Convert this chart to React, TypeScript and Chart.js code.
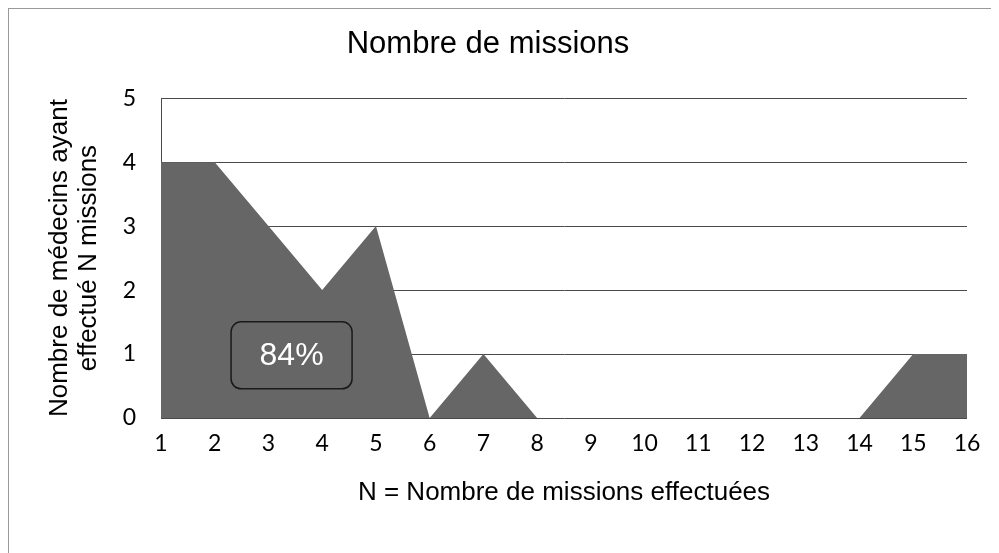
import React, { useEffect, useRef } from "react";
import { Chart, registerables } from "chart.js";

Chart.register(...registerables);

const categories = ["1", "2", "3", "4", "5", "6", "7", "8", "9", "10", "11", "12", "13", "14", "15", "16"];
const medecins = [4, 4, 3, 2, 3, 0, 1, 0, 0, 0, 0, 0, 0, 0, 1, 1];
const yTicks = [0, 1, 2, 3, 4, 5];
const annotationText = "84%";
const annotationX = 3.43; // position on the N axis
const annotationY = 0.98; // position on the value axis

const annotationPlugin = {
  id: "boxLabel",
  afterDatasetsDraw(chart: any) {
    const { ctx, scales } = chart;
    const x = scales.x;
    const y = scales.y;
    const idx = annotationX - Number(categories[0]);
    const cx = x.getPixelForValue(idx);
    const cy = y.getPixelForValue(annotationY);
    const w = 121;
    const h = 67;
    ctx.save();
    ctx.beginPath();
    (ctx as any).roundRect(cx - w / 2, cy - h / 2, w, h, 10);
    ctx.strokeStyle = "#1a1a1a";
    ctx.lineWidth = 1.5;
    ctx.stroke();
    ctx.fillStyle = "#ffffff";
    ctx.font = "32px 'Liberation Sans', Arial, sans-serif";
    ctx.textAlign = "center";
    ctx.textBaseline = "middle";
    ctx.fillText(annotationText, cx, cy + 1);
    ctx.restore();
  },
};

export default function App() {
  const ref = useRef<HTMLCanvasElement>(null);
  useEffect(() => {
    if (!ref.current) return;
    const chart = new Chart(ref.current, {
      type: "line",
      data: {
        labels: categories,
        datasets: [
          {
            data: medecins,
            fill: "origin",
            backgroundColor: "#666666",
            borderWidth: 0,
            borderColor: "#666666",
            pointRadius: 0,
            tension: 0,
          },
        ],
      },
      options: {
        animation: false,
        responsive: false,
        layout: { padding: { left: 0, right: 32, top: 0, bottom: 0 } },
        plugins: {
          legend: { display: false },
          tooltip: { enabled: false },
          title: {
            display: true,
            text: "Nombre de missions",
            color: "#000",
            font: { family: "'Liberation Sans', Arial, sans-serif", size: 31, weight: "normal" },
            padding: { top: 17, bottom: 35 },
          },
        },
        scales: {
          x: {
            type: "category",
            offset: false,
            grid: { display: false, drawTicks: false },
            border: { display: false },
            ticks: {
              autoSkip: false,
              maxRotation: 0,
              padding: 12,
              color: "#000",
              font: { family: "Lato, 'Open Sans', sans-serif", size: 23 },
            },
            title: {
              display: true,
              text: "N = Nombre de missions effectuées",
              color: "#000",
              font: { family: "'Liberation Sans', Arial, sans-serif", size: 26 },
              padding: { top: 0, bottom: 45 },
            },
            afterFit(scale: any) {
              scale.height = 135;
            },
          },
          y: {
            min: 0,
            max: 5,
            afterBuildTicks(scale: any) {
              scale.ticks = yTicks.map((v) => ({ value: v }));
            },
            grid: { color: "#4a4a4a", lineWidth: 1, drawTicks: false },
            border: { display: true, color: "#4a4a4a", width: 1 },
            ticks: {
              padding: 25,
              color: "#000",
              font: { family: "Lato, 'Open Sans', sans-serif", size: 23 },
            },
            title: {
              display: true,
              text: ["Nombre de médecins ayant", "effectué N missions"],
              color: "#000",
              font: { family: "'Liberation Sans', Arial, sans-serif", size: 26, lineHeight: 1.1 },
              padding: { top: 37, bottom: 0 },
            },
            afterFit(scale: any) {
              scale.width = 152;
            },
          },
        },
      },
      plugins: [annotationPlugin],
    });
    return () => chart.destroy();
  }, []);

  return (
    <div
      style={{
        width: 991,
        height: 545,
        borderLeft: "1px solid #999",
        borderTop: "1px solid #999",
        boxSizing: "border-box",
        background: "#fff",
      }}
    >
      <canvas ref={ref} width={990} height={544} style={{ display: "block", width: 990, height: 544 }} />
    </div>
  );
}
